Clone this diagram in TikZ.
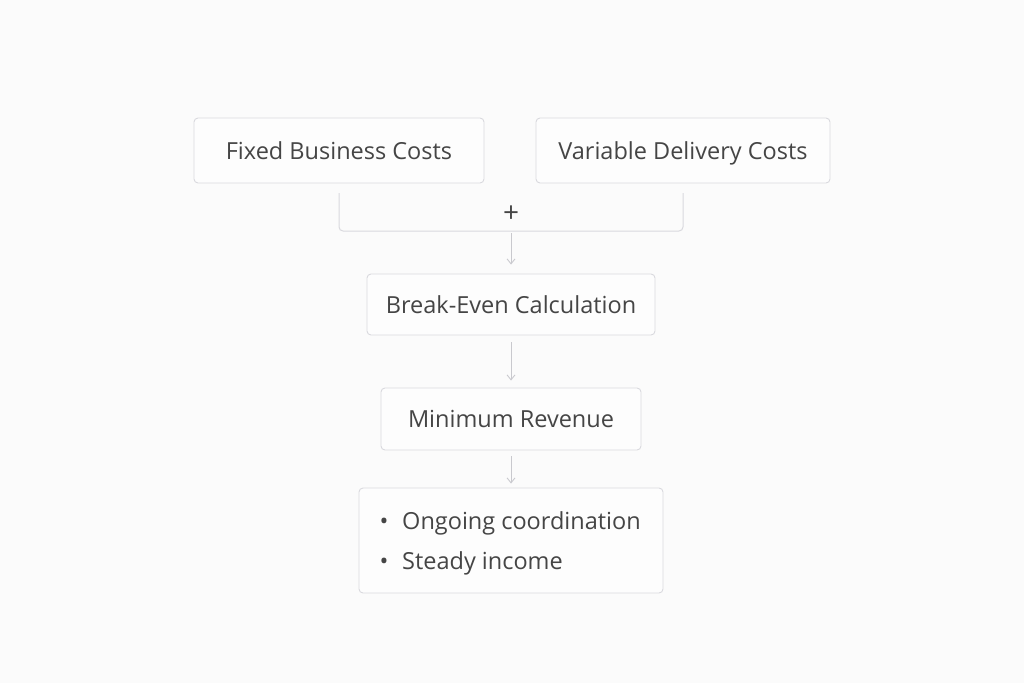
\documentclass[tikz,border=0pt]{standalone}
\usepackage{fontspec}
\setmainfont{Open Sans}[Ligatures=NoCommon]
\usetikzlibrary{arrows.meta,positioning}
\definecolor{bg}{HTML}{FBFBFB}
\definecolor{boxline}{HTML}{D9D9DE}
\definecolor{txt}{HTML}{454545}
\definecolor{arr}{HTML}{C9C9CE}
\tikzset{
  box/.style={draw=boxline, line width=0.9pt, rounded corners=4pt, fill=white!60!bg,
    text=txt, font=\fontsize{23.5}{28}\selectfont, inner sep=0pt, anchor=center,
    text height=17pt, text depth=0pt},
  flow/.style={draw=arr, line width=0.9pt, -{Straight Barb[length=5pt,width=8pt]}},
  brk/.style={draw=boxline, line width=1pt, rounded corners=4pt},
  itemtxt/.style={text=txt, font=\fontsize{23.5}{28}\selectfont, anchor=base west, inner sep=0pt},
  bul/.style={text=txt, font=\fontsize{23.5}{28}\selectfont, anchor=base, inner sep=0pt},
}
\begin{document}
\begin{tikzpicture}[x=1pt,y=-1pt]
\useasboundingbox (0,0) rectangle (1024,683);
\fill[bg] (0,0) rectangle (1024,683);
\node[box, minimum width=290pt, minimum height=65pt] (fixed) at (339,150.5) {Fixed Business Costs};
\node[box, minimum width=294pt, minimum height=65pt] (var) at (683,150.5) {Variable Delivery Costs};
\coordinate (l1) at (339,193);
\coordinate (r1) at (683,193);
\coordinate (mid) at (511,231);
\coordinate (m2) at (511,233);
\draw[brk] (l1) |- (mid) -| (r1);
\node[text=txt, font=\fontsize{28}{30}\selectfont, inner sep=0pt] (plus) at (511,214) {+};
\node[box, minimum width=288pt, minimum height=61pt] (be) at (511,304.5) {Break-Even Calculation};
\draw[flow] (m2) -- ([yshift=9pt]be.north);
\node[box, minimum width=260pt, minimum height=62pt] (minrev) at (511,419) {Minimum Revenue};
\node[box, minimum width=304pt, minimum height=105pt] (list) at (511,540.5) {};
\node[bul] (b1) at (384,529) {\textbullet};
\node[itemtxt] (i1) at (402,529) {Ongoing coordination};
\node[bul] (b2) at (384,569) {\textbullet};
\node[itemtxt] (i2) at (402,569) {Steady income};
\draw[flow] ([yshift=-7pt]be.south) -- ([yshift=7pt]minrev.north);
\draw[flow] ([yshift=-6pt]minrev.south) -- ([yshift=4pt]list.north);
\end{tikzpicture}
\end{document}
